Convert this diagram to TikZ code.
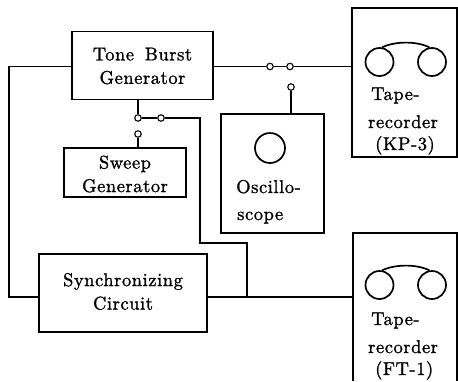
\documentclass[tikz,border=0pt]{standalone}
\usepackage{fontspec}
\newfontfamily\lblfont{lmroman10-regular.otf}[LetterSpace=3,FakeBold=1.2]
\begin{document}
\begin{tikzpicture}[x=1pt,y=-1pt,
  box/.style={draw,line width=1.8pt,inner sep=0pt,rectangle},
  wire/.style={line width=1.1pt},
  term/.style={circle,draw,line width=1.1pt,inner sep=0pt,minimum size=6.5pt,fill=white},
  reel/.style={circle,draw,line width=1.7pt,inner sep=0pt,minimum size=28pt},
  lbl/.style={font=\lblfont\fontsize{18.5}{23.5}\selectfont,align=center,inner sep=0pt},
  ln/.style={font=\lblfont\fontsize{18.5}{23.5}\selectfont,anchor=base west,inner sep=0pt}]
\useasboundingbox (0,0) rectangle (458,381);
% boxes
\node[box,minimum width=141pt,minimum height=68pt] (tbg) at (142.5,65.5) {};
\node[lbl] (tbgt) at (142.5,66) {Tone\hspace{4pt} Burst\\Generator};
\node[box,minimum width=122pt,minimum height=49pt] (sweep) at (125,172.5) {};
\node[lbl] (sweept) at (125,174) {Sweep\\Generator};
\node[box,minimum width=168pt,minimum height=78pt] (sync) at (123,293) {};
\node[lbl] (synct) at (123,291.5) {Synchronizing\\Circuit};
\node[box,minimum width=103pt,minimum height=119pt] (osc) at (272.5,173.5) {};
\node[circle,draw,line width=1.7pt,inner sep=0pt,minimum size=30pt] (screen) at (270,148) {};
\node[ln] (osca) at (236,193) {Oscillo-};
\node[ln] (oscb) at (237,220) {scope};
\node[box,minimum width=105pt,minimum height=149pt] (kp3) at (404.5,82.5) {};
\node[reel] (k1) at (379.5,62) {};
\node[reel] (k2) at (432,62) {};
\draw[line width=1.7pt] (k1.80) .. controls (395,41) and (417,41) .. (k2.100);
\node[ln] (kpa) at (371,100) {Tape-};
\node[ln] (kpb) at (368,128) {recorder};
\node[ln] (kpc) at (375,150) {(KP-3)};
\node[inner sep=0pt,minimum width=104pt,minimum height=148pt] (ft1) at (405,307) {};
\draw[line width=1.8pt] (ft1.south west) |- (ft1.north east) -- (ft1.south east);
\node[reel] (f1) at (379.5,285) {};
\node[reel] (f2) at (432,285) {};
\draw[line width=1.7pt] (f1.80) .. controls (395,264) and (417,264) .. (f2.100);
\node[ln] (fta) at (371,325) {Tape-};
\node[ln] (ftb) at (368,353) {recorder};
\node[ln] (ftc) at (375,375) {(FT-1)};
% switch terminals
\node[term] (s1) at (270,66.5) {};
\node[term] (s2) at (290,66.5) {};
\node[term] (s3) at (291,87) {};
\node[term] (t1) at (138,118) {};
\node[term] (t2) at (161,118) {};
\node[term] (t3) at (138,134) {};
\coordinate (lc) at (9,297);
\coordinate (ja) at (200,243);
\coordinate (jb) at (247,297);
% wires
\draw[wire] (tbg.east |- s1) -- (s1) -- (s2) -- (s2 -| kp3.west);
\draw[wire] (s3) -- (s3 |- osc.north);
\draw[wire] (tbg.west |- s1) -| (lc) -- (lc -| sync.west);
\draw[wire] (sync.east |- lc) -- (lc -| ft1.west);
\draw[wire] (t1 |- tbg.south) -- (t1) -- (t2) -| (ja) -| (jb);
\draw[wire] (t3) -- (t3 |- sweep.north);
\end{tikzpicture}
\end{document}
